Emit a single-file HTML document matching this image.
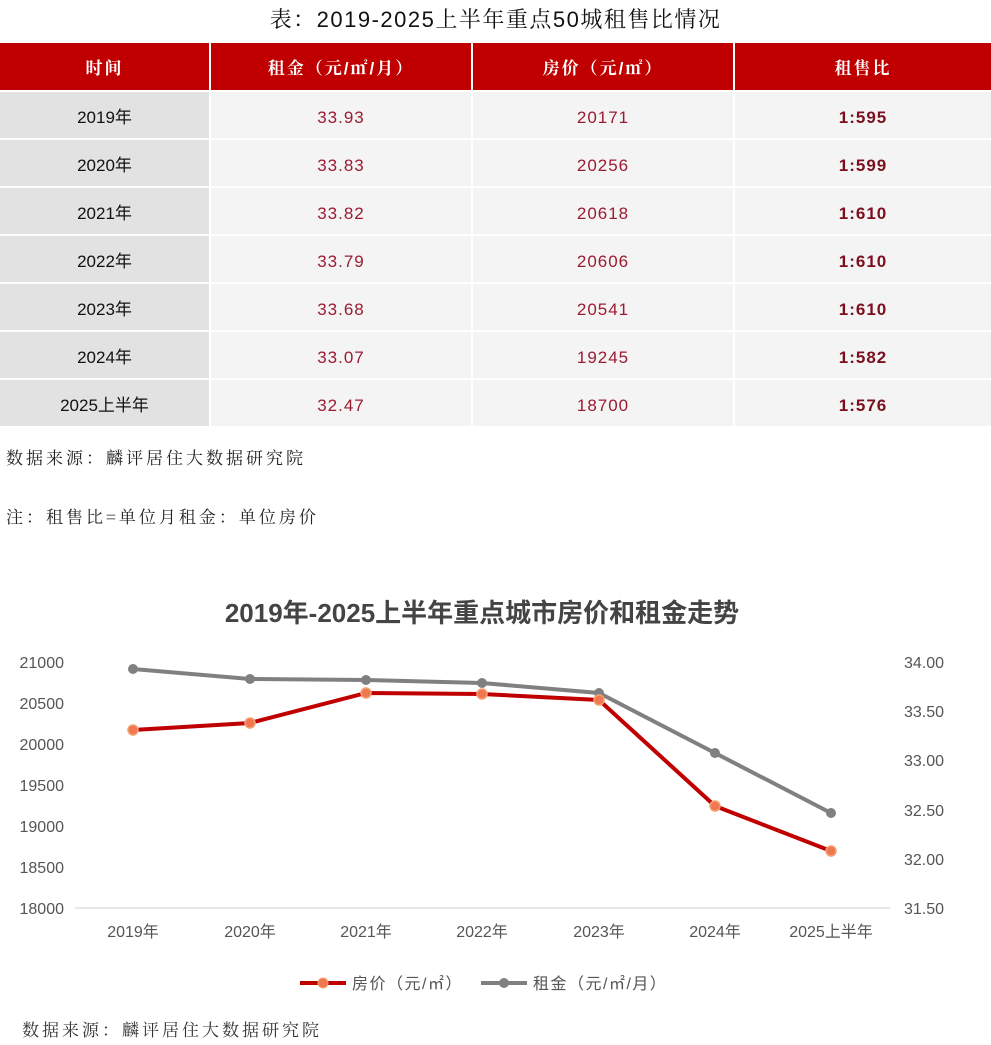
<!DOCTYPE html>
<html><head><meta charset="utf-8"><style>
body{margin:0;width:991px;height:1045px;background:#fff;font-family:"Liberation Sans","Noto Sans CJK SC",sans-serif;position:relative;overflow:hidden}
.title{position:absolute;top:3px;left:0;width:991px;text-align:center;font-size:22px;letter-spacing:1.5px;color:#111;font-family:"Liberation Sans","Noto Serif CJK SC",serif}
table{position:absolute;top:41px;left:-2px;width:995px;border-collapse:separate;border-spacing:2px 2px;table-layout:fixed}
td,th{height:46px;text-align:center;vertical-align:middle;font-size:17px;line-height:20px;padding:5px 0 0 0;box-sizing:border-box}
th{height:47px;background:#c00000;color:#fff;font-weight:bold;font-family:"Liberation Sans","Noto Serif CJK SC",serif;letter-spacing:2px}
td{background:#f4f4f4;color:#9b1b30;letter-spacing:1px}
td.a{background:#e2e2e2;color:#111;letter-spacing:0}
td.b{font-weight:bold;color:#7a0f1e}
.note{position:absolute;left:6px;font-size:17px;letter-spacing:3px;color:#222;font-family:"Noto Serif CJK SC",serif}
</style></head><body>
<div class="title">表：2019-2025上半年重点50城租售比情况</div>
<table>
<colgroup><col style="width:209px"><col style="width:260px"><col style="width:260px"><col></colgroup>
<tr><th>时间</th><th>租金（元/㎡/月）</th><th>房价（元/㎡）</th><th>租售比</th></tr>
<tr><td class="a">2019年</td><td>33.93</td><td>20171</td><td class="b">1:595</td></tr>
<tr><td class="a">2020年</td><td>33.83</td><td>20256</td><td class="b">1:599</td></tr>
<tr><td class="a">2021年</td><td>33.82</td><td>20618</td><td class="b">1:610</td></tr>
<tr><td class="a">2022年</td><td>33.79</td><td>20606</td><td class="b">1:610</td></tr>
<tr><td class="a">2023年</td><td>33.68</td><td>20541</td><td class="b">1:610</td></tr>
<tr><td class="a">2024年</td><td>33.07</td><td>19245</td><td class="b">1:582</td></tr>
<tr><td class="a">2025上半年</td><td>32.47</td><td>18700</td><td class="b">1:576</td></tr>
</table>
<div class="note" style="top:444px">数据来源：麟评居住大数据研究院</div>
<div class="note" style="top:503px">注：租售比=单位月租金：单位房价</div>
<div class="note" style="top:1016px;left:22px;color:#333">数据来源：麟评居住大数据研究院</div>
<svg width="991" height="1045" style="position:absolute;left:0;top:0" font-family="Liberation Sans, Noto Sans CJK SC, sans-serif">
<text x="482" y="622" text-anchor="middle" font-size="26" font-weight="bold" fill="#444">2019年-2025上半年重点城市房价和租金走势</text>
<g font-size="16" fill="#555" text-anchor="end">
<text x="64" y="668">21000</text><text x="64" y="709">20500</text><text x="64" y="750">20000</text><text x="64" y="791">19500</text><text x="64" y="832">19000</text><text x="64" y="873">18500</text><text x="64" y="914">18000</text>
</g>
<g font-size="16" fill="#555">
<text x="904" y="668">34.00</text><text x="904" y="717">33.50</text><text x="904" y="766">33.00</text><text x="904" y="816">32.50</text><text x="904" y="865">32.00</text><text x="904" y="914">31.50</text>
</g>
<line x1="75" y1="908" x2="890" y2="908" stroke="#d0d0d0" stroke-width="1"/>
<g font-size="16" fill="#555" text-anchor="middle">
<text x="133" y="937">2019年</text><text x="250" y="937">2020年</text><text x="366" y="937">2021年</text><text x="482" y="937">2022年</text><text x="599" y="937">2023年</text><text x="715" y="937">2024年</text><text x="831" y="937">2025上半年</text>
</g>
<polyline points="133,669 250,679 366,680 482,683 599,693 715,753 831,813" fill="none" stroke="#808080" stroke-width="4"/>
<g fill="#808080"><circle cx="133" cy="669" r="5"/><circle cx="250" cy="679" r="5"/><circle cx="366" cy="680" r="5"/><circle cx="482" cy="683" r="5"/><circle cx="599" cy="693" r="5"/><circle cx="715" cy="753" r="5"/><circle cx="831" cy="813" r="5"/></g>
<polyline points="133,730 250,723 366,693 482,694 599,700 715,806 831,851" fill="none" stroke="#c00000" stroke-width="4"/>
<g fill="#f07850" stroke="#f5a070" stroke-width="1.5"><circle cx="133" cy="730" r="5"/><circle cx="250" cy="723" r="5"/><circle cx="366" cy="693" r="5"/><circle cx="482" cy="694" r="5"/><circle cx="599" cy="700" r="5"/><circle cx="715" cy="806" r="5"/><circle cx="831" cy="851" r="5"/></g>
<line x1="300" y1="983" x2="346" y2="983" stroke="#c00000" stroke-width="4"/>
<circle cx="323" cy="983" r="5" fill="#f07850" stroke="#f5a070"/>
<text x="352" y="989" font-size="16" fill="#555" letter-spacing="1.5">房价（元/㎡）</text>
<line x1="481" y1="983" x2="527" y2="983" stroke="#808080" stroke-width="4"/>
<circle cx="504" cy="983" r="5" fill="#808080"/>
<text x="533" y="989" font-size="16" fill="#555" letter-spacing="1.5">租金（元/㎡/月）</text>
</svg>
</body></html>
